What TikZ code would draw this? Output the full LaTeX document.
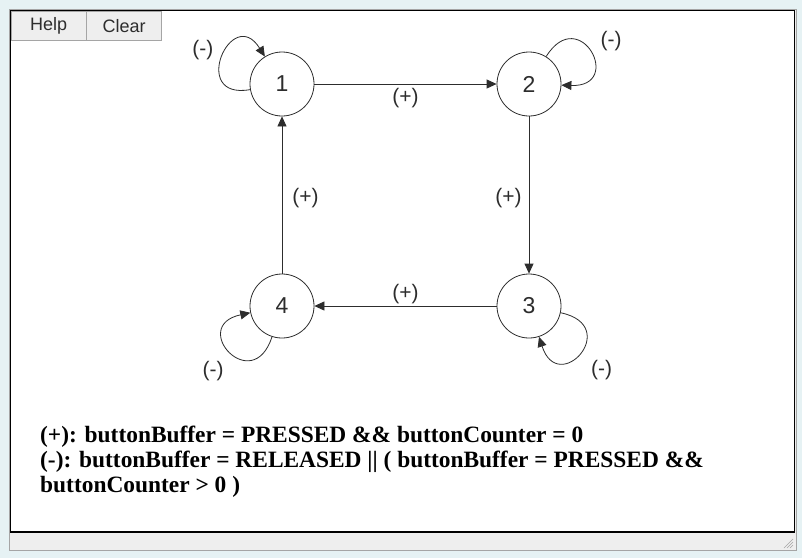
\documentclass[tikz,border=0pt]{standalone}
\usepackage{fontspec}
\setmainfont{Liberation Sans}
\newfontfamily\condfont{Liberation Serif}
\usepackage{tikz}
\usetikzlibrary{
	arrows.meta,
	calc,
	positioning,
}
\definecolor{pagebg}{RGB}{230,242,244}
\definecolor{barbg}{RGB}{238,238,238}
\definecolor{barline}{RGB}{165,165,165}
\definecolor{inkgray}{RGB}{45,45,45}
\tikzset{state node/.style={
	draw,
	circle,
	inner sep=0mm,
	minimum size=64pt,
	thick,
	font=\fontsize{23}{23}\selectfont,
	inkgray,
	text=inkgray,
}}
\tikzset{button node/.style={
	draw=barline,
	fill=barbg,
	minimum width=75pt,
	minimum height=29pt,
	inner sep=0pt,
	font=\fontsize{18}{18}\selectfont,
	text=inkgray,
}}
\tikzset{cond label/.style={
	font=\fontsize{21}{21}\selectfont,
	text=inkgray,
	inner sep=2pt,
}}

\begin{document}
\begin{tikzpicture}[x=1pt, y=-1pt, >={Triangle[length=10pt, width=9pt]}]
\useasboundingbox (0,0) rectangle (802,558);
\fill[pagebg] (0,0) rectangle (802,558);

% window frame
\draw[barline, fill=barbg, thick] (9.5,9.5) rectangle (796.5,550.5);
\draw[black, fill=white, thick] (10.5,10.5) rectangle (794,532);
\draw[black, line width=2pt] (10.5,532) -- (794,532);
\foreach \k in {0,3,6}
\draw[barline] (793,539+\k) -- (784+\k,548);

\node(help)[button node, anchor=north west] at (11,11) {Help};
\node(clear)[button node, right=0pt of help] {Clear};

\node(n1)[state node] at (282,84) {1};
\node(n2)[state node] at (529,84) {2};
\node(n3)[state node] at (529,306) {3};
\node(n4)[state node] at (282,306) {4};

\draw[->, inkgray, thick] (n1) -- node[cond label, below=2pt] {(+)} (n2);
\draw[->, inkgray, thick] (n2) -- node[cond label, left=5pt, yshift=-3pt] {(+)} (n3);
\draw[->, inkgray, thick] (n3) -- node[cond label, above=0pt] {(+)} (n4);
\draw[->, inkgray, thick] (n4) -- node[cond label, right=8pt, yshift=-3pt] {(+)} (n1);

% self loops
\draw[->, inkgray, thick] (n1) to[out=190, in=122, looseness=4.4] node[cond label, pos=0.6, left=12pt, yshift=-2pt] {(-)} (n1);
\draw[->, inkgray, thick] (n2) to[out=58, in=-2, looseness=5] node[cond label, pos=0.4, above right=-9pt and 14pt] {(-)} (n2);
\draw[->, inkgray, thick] (n3) to[out=-12, in=-72, looseness=5] node[cond label, pos=0.35, below right=18pt and 2pt] {(-)} (n3);
\draw[->, inkgray, thick] (n4) to[out=252, in=192, looseness=5] node[cond label, pos=0.4, below left=1pt and 12pt] {(-)} (n4);

\node(conds)[anchor=north west, align=left, inner sep=0pt,
	font=\condfont\bfseries\fontsize{23.4}{25}\selectfont]
	at (40,426) {(+): buttonBuffer = PRESSED \&\& buttonCounter = 0\\
	(-): buttonBuffer = RELEASED || ( buttonBuffer = PRESSED \&\&\\
	buttonCounter > 0 )};

\end{tikzpicture}
\end{document}
